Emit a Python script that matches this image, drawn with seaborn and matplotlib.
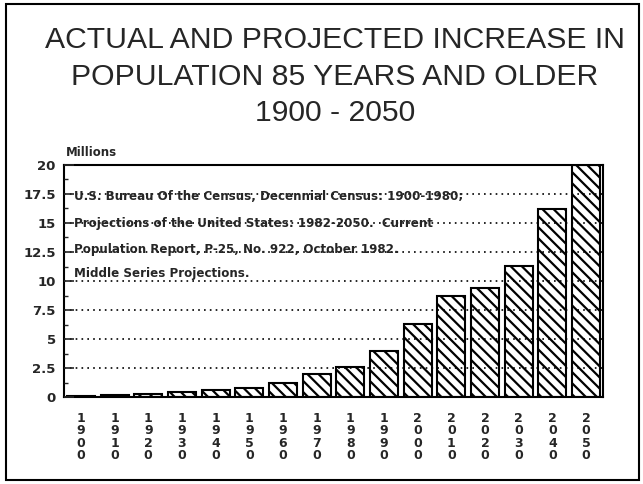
import matplotlib
matplotlib.use("Agg")
import matplotlib.pyplot as plt
import seaborn as sns
from matplotlib.patches import Rectangle
from matplotlib.ticker import MultipleLocator

years = ["1900", "1910", "1920", "1930", "1940", "1950", "1960", "1970",
         "1980", "1990", "2000", "2010", "2020", "2030", "2040", "2050"]
millions = [0.1, 0.17, 0.29, 0.43, 0.58, 0.78, 1.2, 2.0,
            2.6, 4.0, 6.3, 8.7, 9.4, 11.3, 16.2, 20.0]
title_lines = ["ACTUAL AND PROJECTED INCREASE IN",
               "POPULATION 85 YEARS AND OLDER",
               "1900 - 2050"]
source_lines = ["U.S. Bureau Of the Census, Decennial Census: 1900-1980;",
                "Projections of the United States: 1982-2050.  Current",
                "Population Report, P-25, No. 922, October 1982.",
                "Middle Series Projections."]
y_ticks = [0, 2.5, 5, 7.5, 10, 12.5, 15, 17.5, 20]
y_tick_labels = ["0", "2.5", "5", "7.5", "10", "12.5", "15", "17.5", "20"]

sns.set_style("white")
plt.rcParams["hatch.linewidth"] = 1.6
plt.rcParams["font.family"] = ["DejaVu Sans"]

fig = plt.figure(figsize=(6.43, 4.84), dpi=100)
ax = fig.add_axes([64/643, 1 - 397/484, (603-64)/643, (397-165)/484])

sns.barplot(x=years, y=millions, color="white", edgecolor="black",
            linewidth=1.5, hatch="\\\\\\", width=0.83, ax=ax, saturation=1)
for p in ax.patches:
    p.set_facecolor("white")

ax.set_ylim(0, 20)
ax.set_xlim(-0.5, len(years) - 0.5)
ax.set_yticks(y_ticks)
ax.set_yticklabels(y_tick_labels, fontsize=9.5, fontweight="bold")
ax.yaxis.set_minor_locator(MultipleLocator(1.25))
ax.tick_params(axis="y", which="major", direction="in", length=7, width=1.2,
               pad=6, left=True)
ax.tick_params(axis="y", which="minor", direction="in", length=3, width=1,
               left=True)
ax.set_xticks(range(len(years)))
ax.set_xticklabels(["\n".join(y) for y in years], fontsize=9,
                   fontweight="bold", linespacing=0.92)
ax.tick_params(axis="x", length=0, pad=11)
ax.set_xlabel("")
ax.set_ylabel("")

ax.yaxis.grid(True, linestyle=(0, (1, 2.5)), color="black", linewidth=1.2)
ax.xaxis.grid(False)
ax.set_axisbelow(False)
for s in ax.spines.values():
    s.set_visible(True)
    s.set_color("black")
    s.set_linewidth(1.5)

for txt, yv in zip(source_lines, [17.3, 14.95, 12.7, 10.65]):
    ax.text(0.019, yv, txt, transform=ax.get_yaxis_transform(),
            fontsize=8.6, fontweight="bold", va="center", ha="left")

for txt, yp in zip(title_lines, [40, 77, 113]):
    fig.text(335/643, 1 - yp/484, txt, fontsize=21.7, ha="center", va="center",
             family="Liberation Sans")

fig.text(66/643, 1 - 152/484, "Millions", fontsize=8.5, fontweight="bold",
         ha="left", va="center")

fig.add_artist(Rectangle((6/643, 4/484), (639-6)/643, (480-4)/484,
                         transform=fig.transFigure, fill=False,
                         edgecolor="black", linewidth=1.5))

fig.savefig("out.png", dpi=100)
